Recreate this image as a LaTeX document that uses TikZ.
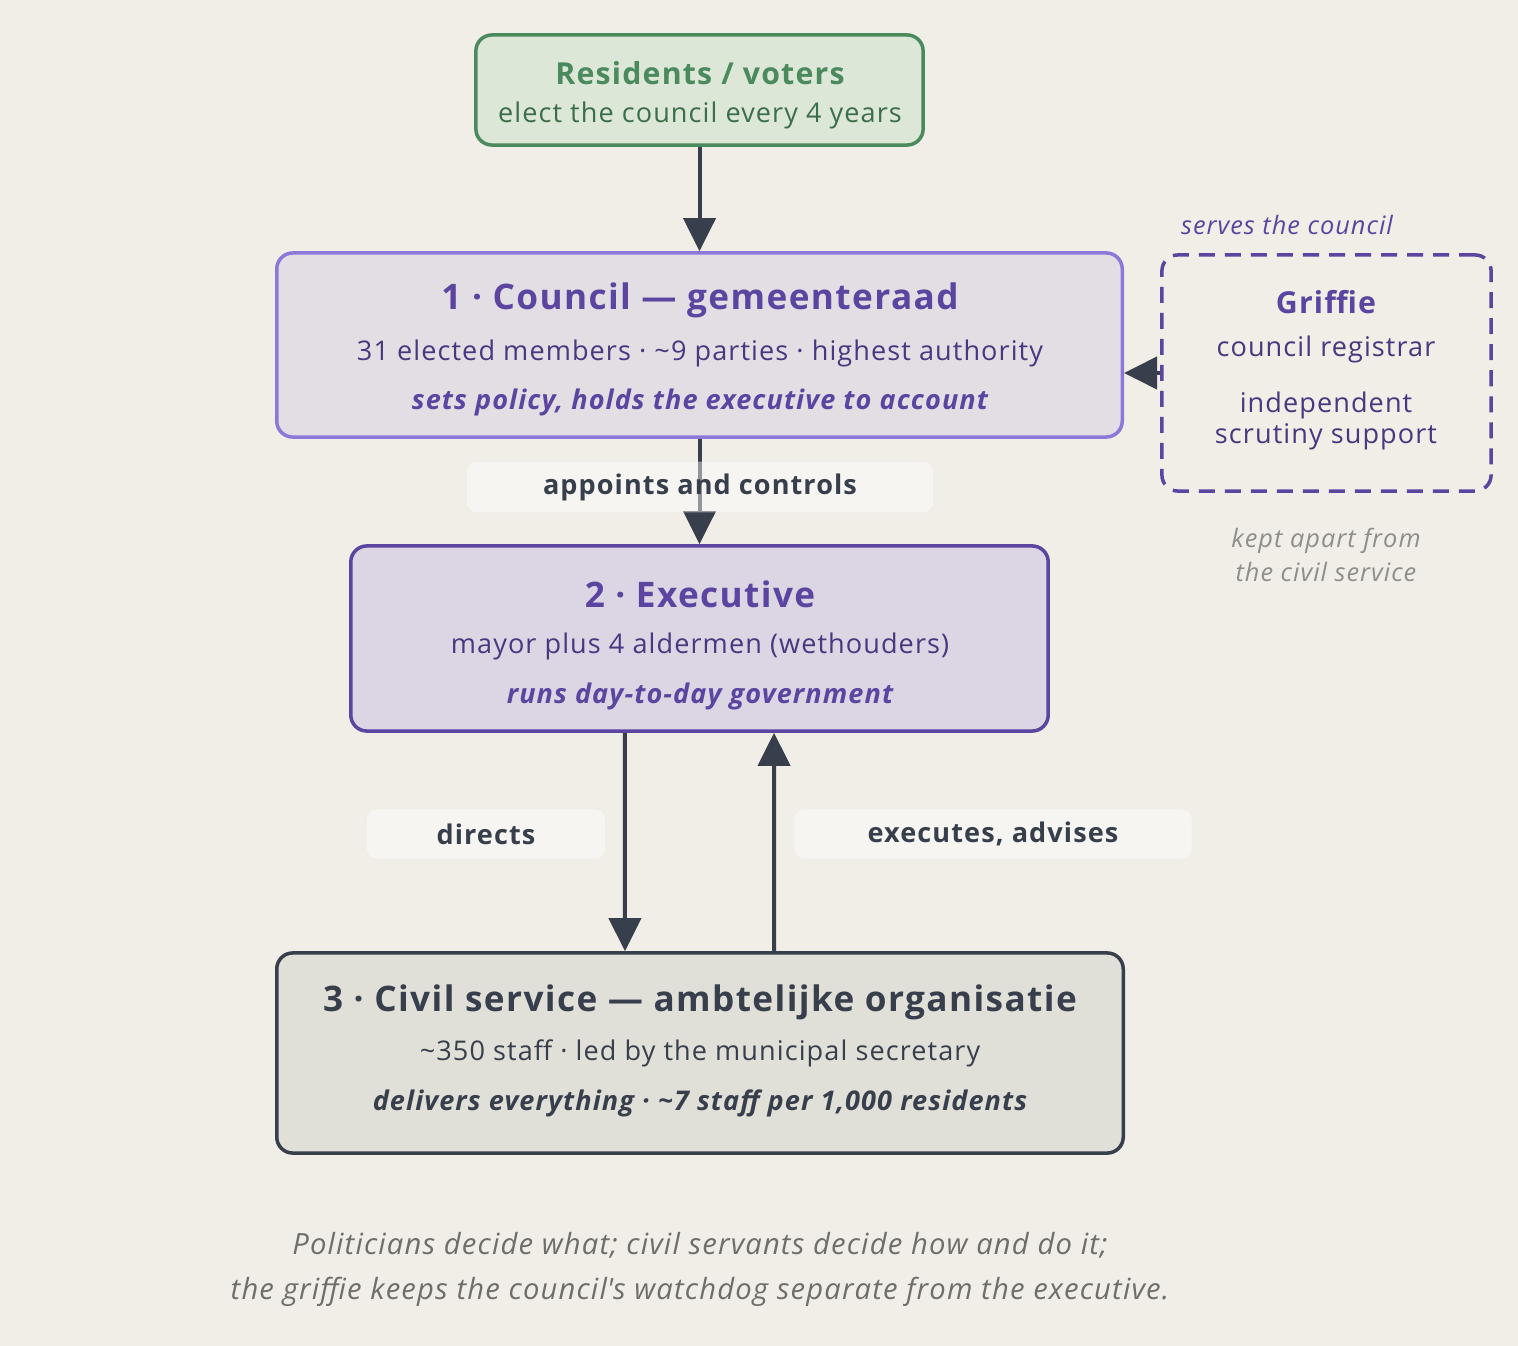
\documentclass[tikz,border=0pt]{standalone}
\usepackage{fontspec}
\setmainfont{Open Sans}[LetterSpace=4]
\usetikzlibrary{arrows.meta,calc}
\definecolor{bgPaper}{HTML}{F0EEE6}
\definecolor{resGreen}{HTML}{4A8A5C}
\definecolor{resFill}{HTML}{DCE7D7}
\definecolor{lilac}{HTML}{8B78D8}
\definecolor{deepPurple}{HTML}{5B45A0}
\definecolor{councilFill}{HTML}{E3DEE4}
\definecolor{execFill}{HTML}{DCD5E3}
\definecolor{slate}{HTML}{373E4C}
\definecolor{civilFill}{HTML}{E1E0D8}
\definecolor{noteGray}{HTML}{8E8E8A}
\definecolor{footGray}{HTML}{6E6E6A}
\tikzset{
  box/.style={draw, rounded corners=0.16cm, line width=0.035cm, inner sep=0pt},
  flow/.style={draw=slate, line width=0.04cm, -{Triangle[length=0.33cm,width=0.32cm]}},
  tag/.style={fill=white, fill opacity=0.45, text opacity=1, rounded corners=0.1cm, font=\fontsize{7.7pt}{9pt}\selectfont\bfseries, text=slate},
  head/.style={font=\fontsize{10pt}{12pt}\selectfont\bfseries},
  body/.style={font=\fontsize{7.7pt}{9pt}\selectfont},
  punch/.style={font=\fontsize{7.7pt}{9pt}\selectfont\bfseries\itshape}
}
\begin{document}
\begin{tikzpicture}[x=0.01cm,y=-0.01cm]
  \fill[bgPaper] (0,0) rectangle (1518,1346);
  \useasboundingbox (0,0) rectangle (1518,1346);

  % boxes
  \node[box, draw=resGreen, fill=resFill, minimum width=4.47cm, minimum height=1.1cm] (res) at (699.5,90) {};
  \node[box, draw=lilac, fill=councilFill, minimum width=8.45cm, minimum height=1.84cm] (council) at (699.5,345) {};
  \node[box, draw=deepPurple, fill=execFill, minimum width=6.97cm, minimum height=1.85cm] (exec) at (699.5,638.5) {};
  \node[box, draw=slate, fill=civilFill, minimum width=8.46cm, minimum height=2.0cm] (civil) at (700,1053) {};
  \node[box, draw=deepPurple, dashed, dash pattern=on 0.16cm off 0.1cm, minimum width=3.29cm, minimum height=2.36cm] (griffie) at (1326.5,373) {};

  % texts
  \node[head, text=resGreen, font=\fontsize{8.6pt}{10pt}\selectfont\bfseries] at (700,73) {Residents / voters};
  \node[body, text=resGreen!80!black] at (700,115) {elect the council every 4 years};
  \node[head, text=deepPurple] at (700,300) {1 · Council — gemeenteraad};
  \node[body, text=deepPurple!80!black] at (700,353) {31 elected members · \textasciitilde9 parties · highest authority};
  \node[punch, text=deepPurple] at (700,402) {sets policy, holds the executive to account};
  \node[head, text=deepPurple] at (700,594) {2 · Executive};
  \node[body, text=deepPurple!80!black] at (700,646) {mayor plus 4 aldermen (wethouders)};
  \node[punch, text=deepPurple] at (700,696) {runs day-to-day government};
  \node[head, text=slate] at (700,1002) {3 · Civil service — ambtelijke organisatie};
  \node[body, text=slate] at (700,1053) {\textasciitilde350 staff · led by the municipal secretary};
  \node[punch, text=slate] at (700,1103) {delivers everything · \textasciitilde7 staff per 1,000 residents};
  \node[head, text=deepPurple, font=\fontsize{8.6pt}{10pt}\selectfont\bfseries] at (1326,302) {Griffie};
  \node[body, text=deepPurple!80!black] at (1326,349) {council registrar};
  \node[body, text=deepPurple!80!black, align=center] at (1326,421) {independent\\scrutiny support};
  \node[body, text=deepPurple, font=\fontsize{7.2pt}{9pt}\selectfont\itshape] at (1287,225) {serves the council};
  \node[body, text=noteGray, align=center, font=\fontsize{7.2pt}{9.6pt}\selectfont\itshape] at (1326,555) {kept apart from\\the civil service};
  \node[text=footGray, align=center, font=\fontsize{8.3pt}{12.8pt}\selectfont\itshape] at (700,1269) {Politicians decide what; civil servants decide how and do it;\\the griffie keeps the council\textquotesingle s watchdog separate from the executive.};

  % connectors
  \draw[flow] (res.south) -- (council.north);
  \draw[flow] (council.south) -- (exec.north);
  \draw[flow] (griffie.west) -- (council.east |- griffie.west);
  \draw[flow] ([xshift=-0.745cm]exec.south) -- ([xshift=-0.75cm]civil.north);
  \draw[flow] ([xshift=0.74cm]civil.north) -- ([xshift=0.745cm]exec.south);

  % connector tags
  \node[tag, minimum width=4.66cm, minimum height=0.49cm] (tagAppoint) at (700,487) {appoints and controls};
  \node[tag, minimum width=2.38cm, minimum height=0.49cm] (tagDirect) at (486,834) {directs};
  \node[tag, minimum width=3.97cm, minimum height=0.49cm] (tagExec) at (993,834) {executes, advises};
\end{tikzpicture}
\end{document}
